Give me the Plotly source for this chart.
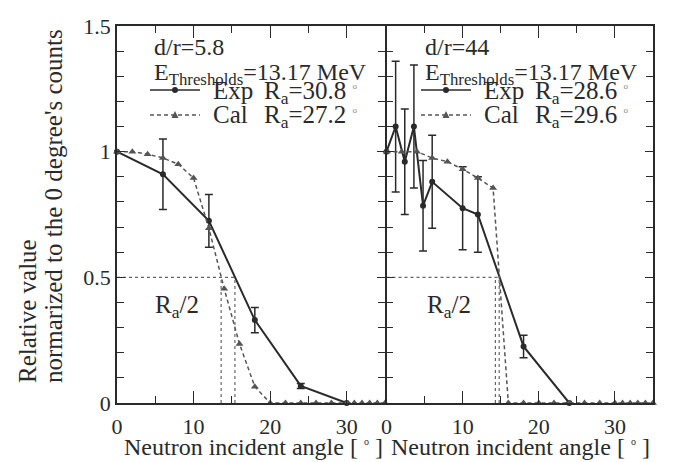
import plotly.graph_objects as go

# ---------------- data ----------------
left_exp_x = [0, 6, 12, 18, 24, 30]
left_exp_y = [1.0, 0.91, 0.725, 0.33, 0.068, 0.0]
left_exp_err = [0, 0.14, 0.105, 0.05, 0.01, 0]

left_cal_x = [0, 2, 4, 6, 8, 10, 12, 14, 16, 18, 20, 22, 24, 26, 28, 30, 31, 32, 33, 34, 35]
left_cal_y = [1.0, 1.0, 0.99, 0.975, 0.95, 0.895, 0.695, 0.455, 0.235, 0.065,
              0, 0, 0, 0, 0, 0, 0, 0, 0, 0, 0]

right_exp_x = [0, 1.2, 2.4, 3.6, 4.8, 6, 10, 12, 18, 24]
right_exp_y = [1.0, 1.10, 0.96, 1.10, 0.785, 0.88, 0.775, 0.75, 0.225, 0.0]
right_exp_err = [0, 0.26, 0.21, 0.245, 0.18, 0.185, 0.165, 0.15, 0.045, 0]

right_cal_x = [0, 2, 4, 6, 8, 10, 12, 14, 16, 18, 20, 22, 24, 26, 28, 30, 31, 32, 33, 34, 35]
right_cal_y = [1.0, 1.0, 1.0, 0.975, 0.96, 0.93, 0.895, 0.855,
               0, 0, 0, 0, 0, 0, 0, 0, 0, 0, 0, 0, 0]

left_ra_exp, left_ra_cal = 30.8, 27.2
right_ra_exp, right_ra_cal = 28.6, 29.6
left_dr, right_dr = "5.8", "44"
threshold = "13.17"

x_tick_vals = [0, 10, 20, 30]
y_tick_vals = [0, 0.5, 1, 1.5]
y_tick_text = ["0", "0.5", "1", "1.5"]

# ---------------- style ----------------
FONT = "Liberation Serif"
INK = "#2a2a2a"
GREY = "#555555"
W, H = 696, 462
L, R, T, B = 117, 43, 26, 59
PW, PH = W - L - R, H - T - B


def px(xp):
    return (xp - L) / PW


def py(yp):
    return (H - B - yp) / PH


fig = go.Figure()


def add_panel(xa, ya, ex, ey, eerr, cx, cy, ra_exp, ra_cal):
    fig.add_trace(go.Scatter(
        x=ex, y=ey, mode="lines+markers", xaxis=xa, yaxis=ya,
        line=dict(color=INK, width=2),
        marker=dict(symbol="circle", size=6, color=INK),
        error_y=dict(type="data", array=eerr, visible=True, color=INK,
                     thickness=1.5, width=4),
        cliponaxis=False, showlegend=False, name="Exp",
    ))
    fig.add_trace(go.Scatter(
        x=cx, y=cy, mode="lines+markers", xaxis=xa, yaxis=ya,
        line=dict(color=GREY, width=1.5, dash="4px,3px"),
        marker=dict(symbol="triangle-up", size=7, color=GREY),
        cliponaxis=False, showlegend=False, name="Cal",
    ))
    half_exp = ra_exp / 2
    half_cal = ra_cal / 2
    half_max = max(half_exp, half_cal)
    dot = dict(color="#666666", width=1.2, dash="dot")
    fig.add_trace(go.Scatter(x=[0, half_max], y=[0.5, 0.5], mode="lines", line=dot,
                             xaxis=xa, yaxis=ya, showlegend=False, hoverinfo="skip"))
    for h in (half_exp, half_cal):
        fig.add_trace(go.Scatter(x=[h, h], y=[0, 0.5], mode="lines", line=dot,
                                 xaxis=xa, yaxis=ya, showlegend=False, hoverinfo="skip"))


add_panel("x", "y", left_exp_x, left_exp_y, left_exp_err, left_cal_x, left_cal_y,
          left_ra_exp, left_ra_cal)
add_panel("x2", "y2", right_exp_x, right_exp_y, right_exp_err, right_cal_x, right_cal_y,
          right_ra_exp, right_ra_cal)

axis_common = dict(
    showline=True, linecolor=INK, linewidth=1.5, mirror="ticks",
    ticks="inside", tickcolor=INK, tickwidth=1.2,
    showgrid=False, zeroline=False,
    tickfont=dict(family=FONT, size=22, color=INK),
)
xcommon = dict(axis_common, range=[0, 35], tickvals=x_tick_vals, ticklen=12,
               ticklabelstandoff=3,
               minor=dict(dtick=5, ticks="inside", ticklen=7, tickcolor=INK, tickwidth=1.2))
ycommon = dict(axis_common, range=[0, 1.5], tickvals=y_tick_vals, ticklen=8,
               minor=dict(dtick=0.1, ticks="inside", ticklen=7, tickcolor=INK, tickwidth=1.2))

split = 0.5
fig.update_layout(
    width=W, height=H,
    margin=dict(l=L, r=R, t=T, b=B),
    paper_bgcolor="white", plot_bgcolor="white",
    font=dict(family=FONT, size=22, color=INK),
    xaxis=dict(xcommon, domain=[0, split], anchor="y"),
    yaxis=dict(ycommon, domain=[0, 1], anchor="x", ticktext=y_tick_text),
    xaxis2=dict(xcommon, domain=[split + 1.5 / PW, 1], anchor="y2"),
    yaxis2=dict(ycommon, domain=[0, 1], anchor="x2", showticklabels=False),
    showlegend=False,
)

ann = []
shapes = []


def text(xp, yp, s, size=25, xanchor="left", yanchor="top", **kw):
    ann.append(dict(x=px(xp), y=py(yp), xref="paper", yref="paper",
                    xanchor=xanchor, yanchor=yanchor, showarrow=False, text=s,
                    font=dict(family=FONT, size=size, color=INK), **kw))


DEG = "<sup><span style='font-size:9px;color:#888888'>o</span></sup>"

panels = [
    (152, left_dr, left_ra_exp, left_ra_cal, 153),
    (423, right_dr, right_ra_exp, right_ra_cal, 425),
]
for x0, dr, rexp, rcal, xr2 in panels:
    text(x0, 32, f"d/r={dr}", size=24)
    text(x0, 57, f"E<sub>Thresholds</sub>={threshold} MeV", size=24)
    # legend rows: sample lines with markers (shapes)
    lx0, lx1 = x0 - 2, x0 + 48
    cx = (lx0 + lx1) / 2
    shapes.append(dict(type="line", xref="paper", yref="paper",
                       x0=px(lx0), x1=px(lx1), y0=py(90), y1=py(90),
                       line=dict(color=INK, width=1.5)))
    shapes.append(dict(type="circle", xref="paper", yref="paper",
                       x0=px(cx - 3), x1=px(cx + 3), y0=py(93), y1=py(87),
                       fillcolor=INK, line=dict(color=INK, width=0)))
    shapes.append(dict(type="line", xref="paper", yref="paper",
                       x0=px(lx0), x1=px(lx1), y0=py(115), y1=py(115),
                       line=dict(color=GREY, width=1.3, dash="4px,3px")))
    shapes.append(dict(type="path", xref="paper", yref="paper",
                       path=f"M {px(cx - 3.5)} {py(118)} L {px(cx + 3.5)} {py(118)} "
                            f"L {px(cx)} {py(111)} Z",
                       fillcolor=GREY, line=dict(color=GREY, width=0)))
    text(x0 + 59, 75, "Exp")
    text(x0 + 59, 99, "Cal")
    text(x0 + 110, 75, f"R<sub>a</sub>={rexp} {DEG}")
    text(x0 + 110, 99, f"R<sub>a</sub>={rcal} {DEG}")
    # Ra/2 label
    text(xr2, 289, "R<sub>a</sub>/2")

for xc in (L + PW * 0.254, L + PW * 0.752):
    text(xc, 432, "Neutron incident angle [ <sup><span style='font-size:10px'>o</span></sup> ]",
         size=24, xanchor="center")
for xp, txt in ((27, "Relative value"), (53, "normarized to the 0 degree's counts")):
    text(xp, 385, txt, size=25, xanchor="center", yanchor="bottom", textangle=-90)

fig.update_layout(annotations=ann, shapes=shapes)

fig.write_html("out.html", config={"displayModeBar": False},
               post_script="document.body.style.margin='0';")
